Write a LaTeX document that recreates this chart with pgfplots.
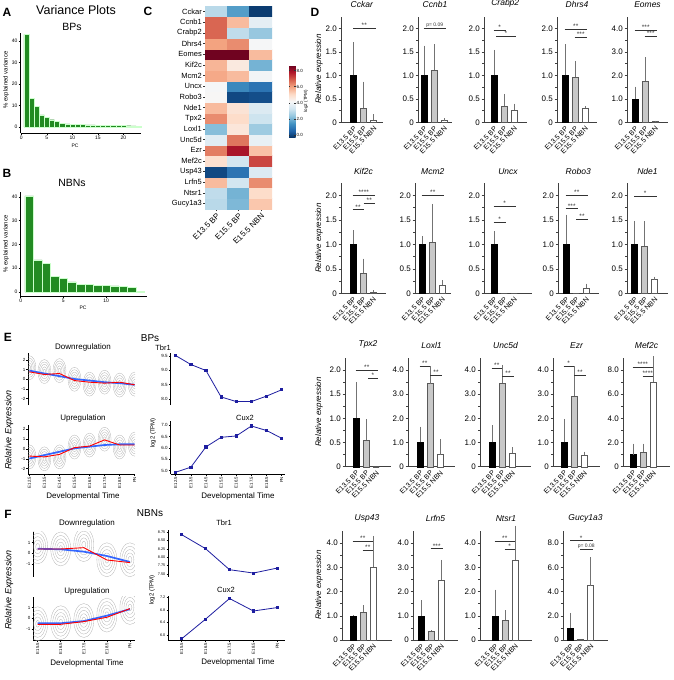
\documentclass[border=0pt]{standalone}
\usepackage{fontspec}
\setmainfont{Liberation Sans}
\usepackage{pgfplots}
\usepackage{pgfplotstable}
\pgfplotsset{compat=1.18}
\newcommand{\fs}[1]{\fontsize{#1}{#1}\selectfont}
\definecolor{pcgreen}{RGB}{34,139,34}
\definecolor{lblue}{RGB}{51,102,255}
\definecolor{tbblue}{RGB}{30,30,160}
\definecolor{bgrey}{RGB}{200,200,200}
\definecolor{edge}{RGB}{90,90,90}

\pgfplotsset{
 /pgf/number format/assume math mode=true,
 pcax/.style={scale only axis, anchor=south west, axis x line*=bottom, axis y line*=left, tick align=outside,
   axis line style={line width=0.5pt}, tick style={line width=0.5pt,black}, major tick length=2pt,
   ticklabel style={font=\fs{5}, inner sep=1pt}, xtick={0,5,10,15,20}, ytick={0,10,20,30,40}, clip=false},
 pcbar/.style={ybar, bar width=1, bar shift=0pt, fill=pcgreen, draw=green!20!white, line width=0.3pt},
 dbase/.style={scale only axis, anchor=south west, ymin=0, axis x line*=bottom, axis y line*=left,
   axis line style={black!75, line width=0.5pt}, tick align=outside, tick style={black!75, line width=0.5pt},
   major tick length=2.5pt, minor tick length=1.6pt, xtick={1,2,3}, xticklabels={E13.5 BP,E15.5 BP,E15.5 NBN},
   major x tick style={draw=none}, xticklabel style={rotate=45, anchor=north east, inner sep=0.5pt, font=\fs{7}},
   yticklabel style={font=\fs{8}, inner sep=1.5pt},
   title style={font=\fs{8.5}\itshape, at={(0.5,1)}, anchor=south, yshift=3pt, inner sep=0pt}, clip=false},
 s2/.style={ymax=2.25, ytick={0,0.5,1,1.5,2}, yticklabels={0,0.5,1.0,1.5,2.0}, minor y tick num=1},
 s4/.style={ymax=4.5, ytick={0,1,2,3,4}, yticklabels={0,1.0,2.0,3.0,4.0}, minor y tick num=1},
 s8/.style={ymax=9, ytick={0,2,4,6,8}, yticklabels={0,2.0,4.0,6.0,8.0}, minor y tick num=1},
 ebar/.style={error bars/.cd, y dir=plus, y explicit, error mark=none, error bar style={black!55, line width=0.6pt}},
 bk/.style={ybar, bar width=6pt, bar shift=0pt, fill=black, draw=black, line width=0.4pt, ebar},
 gy/.style={ybar, bar width=6pt, bar shift=0pt, fill=bgrey, draw=edge, line width=0.4pt, ebar},
 wt/.style={ybar, bar width=6pt, bar shift=0pt, fill=white, draw=edge, line width=0.4pt, ebar},
 lineax/.style={scale only axis, anchor=south west, axis y line*=left, tick align=outside,
   axis line style={line width=0.5pt}, tick style={line width=0.5pt, black}, major tick length=1.8pt,
   yticklabel style={font=\fs{4.5}, inner sep=1pt},
   xticklabel style={font=\fs{4.3}, rotate=90, anchor=east, inner sep=1pt}},
 downax/.style={lineax, axis x line=none},
 upax/.style={lineax, axis x line*=bottom},
 redl/.style={red, line width=0.9pt},
 bluel/.style={lblue, line width=1.7pt},
 tbl/.style={tbblue, line width=0.8pt, mark=square*, mark size=1.1pt},
}

\newcommand{\bars}[6]{\addplot[bk] coordinates {(1,#1) +- (0,#2)};
 \addplot[gy] coordinates {(2,#3) +- (0,#4)};
 \addplot[wt] coordinates {(3,#5) +- (0,#6)};}
\newcommand{\sig}[4]{\draw[black!80, line width=0.5pt] (axis cs:#1,#3) -- (axis cs:#2,#3) node[midway, above, inner sep=0.4pt, font=\fs{6.5}] {#4};}
\newcommand{\dpanel}[9]{\begin{axis}[dbase,#7,at={(#1pt,-#2pt)},xmin=#3,xmax=#4,width=#5pt,height=#6pt,title={#8}]
 #9
 \end{axis}}
\newcommand{\blob}[4]{\foreach \k in {1,...,5}{\edef\tmp{\noexpand\draw[gray!60, line width=0.3pt] (axis cs:#1,#2) ellipse [x radius=\k*#3pt, y radius=\k*#4pt];}\tmp}}

\pgfplotstableread{
x y c
0 0 2.9
1 0 2.1
2 0 5.4
0 1 3.0
1 1 2.0
2 1 5.0
0 2 5.6
1 2 3.3
2 2 6.3
0 3 0.0
1 3 0.8
2 3 3.5
0 4 4.9
1 4 3.3
2 4 7.2
0 5 6.5
1 5 7.9
2 5 5.5
0 6 3.6
1 6 6.6
2 6 3.8
0 7 2.2
1 7 4.7
2 7 2.5
0 8 6.3
1 8 5.0
2 8 3.2
0 9 5.6
1 9 4.8
2 9 3.5
0 10 4.2
1 10 0.0
2 10 0.1
0 11 4.1
1 11 1.2
2 11 0.8
0 12 5.9
1 12 5.6
2 12 4.0
0 13 5.7
1 13 4.6
2 13 2.0
0 14 8.6
1 14 8.6
2 14 5.6
0 15 6.0
1 15 6.3
2 15 4.1
0 16 6.8
1 16 3.0
2 16 2.4
0 17 6.8
1 17 5.6
2 17 3.7
0 18 2.9
1 18 1.6
2 18 -0.2
}\heat

\begin{document}
\begin{tikzpicture}
\path[use as bounding box] (0pt,0pt) rectangle (674pt,-680pt);

% ---------------- Panel A / B ----------------
\node[font=\fs{12}\bfseries] at (7pt,-12pt) {A};
\node[font=\fs{12.5}] at (76pt,-10pt) {Variance Plots};
\node[font=\fs{10.5}] at (72pt,-27pt) {BPs};
\begin{axis}[pcax, at={(20.7pt,-133pt)}, width=120.5pt, height=100pt, xmin=-0.12, xmax=23.5, ymin=-2.78, ymax=43.6]
\addplot[pcbar] coordinates {(1,43) (2,13.3) (3,9.7) (4,5.6) (5,4.5) (6,3.4) (7,2.5) (8,1.7) (9,1.4) (10,1.3) (11,1.2) (12,1.1) (13,1.0) (14,0.95) (15,0.9) (16,0.85) (17,0.8) (18,0.75) (19,0.7) (20,0.65) (21,0.6) (22,0.5) (23,0.2)};
\end{axis}
\node[font=\fs{6}, rotate=90] at (6pt,-80pt) {\% explained variance};
\node[font=\fs{5}] at (75pt,-146pt) {PC};

\node[font=\fs{12}\bfseries] at (7pt,-173pt) {B};
\node[font=\fs{10.5}] at (72pt,-183pt) {NBNs};
\begin{axis}[pcax, at={(20.7pt,-296pt)}, width=126.3pt, height=104pt, xmin=0, xmax=14.8, ymin=-1.7, ymax=42.1, xtick={0,5,10,15}]
\addplot[pcbar] coordinates {(1,40.5) (2,13.5) (3,12) (4,6.5) (5,5.7) (6,4.2) (7,3.3) (8,3.2) (9,2.8) (10,2.7) (11,2.6) (12,2.4) (13,2.0) (14,0.2)};
\end{axis}
\node[font=\fs{6}, rotate=90] at (6pt,-244pt) {\% explained variance};
\node[font=\fs{5}] at (83pt,-308pt) {PC};

% ---------------- Panel C ----------------
\node[font=\fs{12}\bfseries] at (148pt,-11pt) {C};
\begin{axis}[scale only axis, at={(205pt,-209pt)}, anchor=south west, width=67pt, height=203pt,
  xmin=-0.5, xmax=2.5, ymin=-0.5, ymax=18.5, enlargelimits=false, axis line style={draw=none},
  tick align=outside, major tick length=2pt, tick style={black!80, line width=0.4pt},
  xtick={0,1,2}, xticklabels={E13.5 BP,E15.5 BP,E15.5 NBN},
  ytick={0,...,18}, yticklabels={Gucy1a3,Ntsr1,Lrfn5,Usp43,Mef2c,Ezr,Unc5d,Loxl1,Tpx2,Nde1,Robo3,Uncx,Mcm2,Kif2c,Eomes,Dhrs4,Crabp2,Ccnb1,Cckar},
  xtick pos=left, ytick pos=left,
  xticklabel style={rotate=45, anchor=north east, font=\fs{8}, inner sep=1pt},
  yticklabel style={font=\fs{7.5}, inner sep=1pt},
  colormap={rdbu}{rgb255=(5,48,97) rgb255=(33,102,172) rgb255=(67,147,195) rgb255=(146,197,222) rgb255=(209,229,240) rgb255=(247,247,247) rgb255=(253,219,199) rgb255=(244,165,130) rgb255=(214,96,77) rgb255=(178,24,43) rgb255=(103,0,31)},
  point meta min=-0.4, point meta max=8.7,
  colorbar,
  colorbar style={at={(parent axis.north east)}, anchor=north west, xshift=8.5pt, yshift=-59pt,
     scale only axis, width=6.5pt, height=73pt, ytick={0,2,4,6,8}, yticklabels={0.0,2.0,4.0,6.0,8.0},
     yticklabel style={font=\fs{4.5}, inner sep=0.8pt}, major tick length=1.2pt, axis line style={draw=none}}]
\addplot[matrix plot*, mesh/cols=3, point meta=explicit] table[meta=c] {\heat};
\end{axis}
\node[font=\fs{4.5}, rotate=90] at (306pt,-101pt) {log2 (TPM)};

% ---------------- Panel D ----------------
\node[font=\fs{12}\bfseries] at (315pt,-12pt) {D};
\foreach \yy in {69,238,412,585}{\node[font=\fs{8}\itshape, rotate=90] at (319pt,-\yy pt) {Relative expression};}

\dpanel{341}{122.5}{-0.25}{3.9}{41.5}{106}{s2}{Cckar}{\bars{1.0}{0.70}{0.30}{0.57}{0.05}{0.12}\sig{0.95}{3.2}{2.0}{**}}
\dpanel{418}{122.5}{0.4}{3.8}{34}{106}{s2}{Ccnb1}{\bars{1.0}{0.63}{1.12}{0.54}{0.04}{0.05}\sig{0.95}{3.2}{2.0}{\fs{5}p= 0.09}}
\dpanel{484}{122.5}{0.0}{4.25}{42.5}{106}{s2}{Crabp2}{\bars{1.0}{0.54}{0.34}{0.27}{0.27}{0.13}\sig{0.95}{2.2}{1.96}{*}\sig{1.2}{3.2}{1.84}{*}}
\dpanel{557}{122.5}{0.2}{4.2}{40}{106}{s2}{Dhrs4}{\bars{1.0}{0.66}{0.96}{0.35}{0.30}{0.05}\sig{0.95}{3.2}{1.98}{**}\sig{1.95}{3.2}{1.82}{***}}
\dpanel{627}{122.5}{0.2}{4.3}{41}{106}{s4}{Eomes}{\bars{1.0}{0.52}{1.75}{1.02}{0.05}{0.03}\sig{0.95}{3.2}{3.92}{***}\sig{1.95}{3.2}{3.67}{***}}

\dpanel{341}{293.3}{-0.2}{4.3}{45}{110}{s2}{Kif2c}{\bars{1.0}{0.29}{0.41}{0.30}{0.03}{0.03}\sig{0.95}{3.2}{2.01}{****}\sig{0.95}{2.05}{1.71}{**}\sig{2.05}{3.2}{1.84}{**}}
\dpanel{415}{293.3}{0.3}{3.85}{35.5}{110}{s2}{Mcm2}{\bars{1.0}{0.17}{1.05}{0.78}{0.16}{0.11}\sig{0.95}{3.2}{2.01}{**}}
\dpanel{484}{293.3}{0.0}{4.8}{48}{110}{s2}{Uncx}{\bars{1.0}{0.27}{0}{0}{0}{0}\sig{0.95}{3.2}{1.78}{*}\sig{0.95}{2.2}{1.46}{*}}
\dpanel{558}{293.3}{0.2}{4.25}{40.5}{110}{s2}{Robo3}{\bars{1.0}{0.61}{0}{0}{0.1}{0.1}\sig{0.95}{3.2}{2.01}{**}\sig{0.95}{2.2}{1.73}{***}\sig{2.0}{3.2}{1.51}{**}}
\dpanel{627}{293.3}{0.25}{4.35}{41}{110}{s2}{Nde1}{\bars{1.0}{0.48}{0.97}{0.50}{0.28}{0.06}\sig{0.95}{3.2}{1.99}{*}}

\dpanel{345}{466.7}{-0.1}{4.5}{46}{109}{s2}{Tpx2}{\bars{1.0}{0.75}{0.55}{0.43}{0}{0}\sig{0.95}{3.2}{2.0}{**}\sig{2.2}{3.2}{1.83}{*}}
\dpanel{408}{466.7}{-0.2}{4.5}{47}{109}{s4}{Loxl1}{\bars{1.0}{0.65}{3.43}{0.71}{0.5}{0.63}\sig{0.95}{2.0}{4.14}{**}\sig{2.0}{3.2}{3.77}{**}}
\dpanel{480}{466.7}{-0.2}{4.9}{51}{109}{s4}{Unc5d}{\bars{1.0}{0.72}{3.45}{0.75}{0.55}{0.25}\sig{0.95}{2.0}{4.07}{**}\sig{2.0}{3.2}{3.72}{**}}
\dpanel{553}{466.7}{-0.1}{4.6}{47}{109}{s4}{Ezr}{\bars{1.0}{0.97}{2.93}{1.21}{0.47}{0.15}\sig{0.95}{2.0}{4.14}{*}\sig{2.0}{3.2}{3.77}{**}}
\dpanel{623}{466.7}{0.0}{4.7}{47}{109}{s8}{Mef2c}{\bars{1.0}{0.9}{1.2}{0.7}{7.0}{2.1}\sig{0.95}{3.0}{8.2}{****}\sig{1.95}{3.0}{7.45}{****}}

\dpanel{342}{640}{-0.1}{4.9}{50}{109}{s4}{Usp43}{\bars{1.0}{0.02}{1.15}{0.29}{3.0}{1.3}\sig{0.95}{3.0}{4.08}{**}\sig{1.95}{3.0}{3.7}{**}}
\dpanel{413}{640}{0.2}{4.7}{45}{109}{s4}{Lrfn5}{\bars{1.0}{0.64}{0.37}{0.04}{2.47}{0.84}\sig{1.95}{3.2}{3.77}{***}}
\dpanel{480}{640}{-0.5}{4.7}{52}{109}{s4}{Ntsr1}{\bars{1.0}{1.08}{0.83}{0.40}{3.3}{1.42}\sig{0.95}{3.0}{4.08}{**}\sig{1.95}{3.0}{3.75}{*}}
\dpanel{563}{640}{0.25}{4.75}{45}{109}{s8}{Gucy1a3}{\bars{1.0}{1.25}{0.03}{0}{4.5}{2.35}\sig{0.95}{3.2}{8.2}{*}\sig{1.95}{3.2}{7.5}{\fs{5}p= 0.08}}

% ---------------- Panel E ----------------
\node[font=\fs{12}\bfseries] at (8pt,-337pt) {E};
\node[font=\fs{10}] at (150pt,-338pt) {BPs};
\node[font=\fs{8}] at (83pt,-347pt) {Downregulation};
\node[font=\fs{8}] at (83pt,-418pt) {Upregulation};
\node[font=\fs{9}\itshape, rotate=90] at (9pt,-430pt) {Relative Expression};
\node[font=\fs{8}] at (83pt,-496pt) {Developmental Time};
\begin{axis}[downax, at={(28.3pt,-405pt)}, width=106.7pt, height=51.7pt, xmin=0.93, xmax=8.02, ymin=-2.66, ymax=2.69, ytick={-2,-1,0,1,2}]
\blob{1}{1.2}{1.3}{2.4}\blob{2}{0.8}{1.3}{2.4}\blob{3}{0.9}{1.3}{2.4}\blob{4}{0}{1.3}{2.4}
\blob{5}{-0.5}{1.3}{2.4}\blob{6}{-0.3}{1.3}{2.4}\blob{7}{-0.6}{1.3}{2.4}\blob{8}{-0.5}{1.3}{2.4}
\addplot[bluel] coordinates {(1,0.9) (2,0.6) (3,0.33) (4,0.03) (5,-0.13) (6,-0.3) (7,-0.4) (8,-0.57)};
\addplot[redl] coordinates {(1,0.77) (2,0.5) (3,0.6) (4,-0.13) (5,-0.3) (6,-0.4) (7,-0.3) (8,-0.57)};
\end{axis}
\begin{axis}[upax, at={(28.3pt,-474pt)}, width=106.7pt, height=49pt, xmin=0.93, xmax=8.02, ymin=-2.55, ymax=2.45, ytick={-2,-1,0,1,2},
  xtick={1,...,8}, xticklabels={E12.5,E13.5,E14.5,E15.5,E16.5,E17.5,E18.5,PN}]
\blob{1}{-0.8}{1.3}{2.4}\blob{2}{-1}{1.3}{2.4}\blob{3}{-0.8}{1.3}{2.4}\blob{4}{0.2}{1.3}{2.4}
\blob{5}{0.4}{1.3}{2.4}\blob{6}{1}{1.3}{2.4}\blob{7}{0.2}{1.3}{2.4}\blob{8}{0.5}{1.3}{2.4}
\addplot[bluel] coordinates {(1,-0.97) (2,-0.62) (3,-0.28) (4,0.07) (5,0.24) (6,0.41) (7,0.48) (8,0.48)};
\addplot[redl] coordinates {(1,-0.72) (2,-0.8) (3,-0.55) (4,0.14) (5,0.3) (6,0.93) (7,0.41) (8,0.41)};
\end{axis}

\node[font=\fs{7.5}] at (163pt,-348pt) {Tbr1};
\node[font=\fs{7.5}] at (245pt,-418pt) {Cux2};
\node[font=\fs{6}, rotate=90] at (153pt,-433pt) {log2 (TPM)};
\node[font=\fs{8}] at (238pt,-496pt) {Developmental Time};
\begin{axis}[downax, at={(170.7pt,-405pt)}, width=114.3pt, height=52pt, xmin=0.67, xmax=8.22, ymin=7.79, ymax=9.6,
  ytick={8,8.5,9,9.5}, yticklabel style={/pgf/number format/.cd, fixed, fixed zerofill, precision=1}]
\addplot[tbl] coordinates {(1,9.51) (2,9.2) (3,8.99) (4,8.07) (5,7.91) (6,7.91) (7,8.1) (8,8.32)};
\end{axis}
\begin{axis}[upax, at={(170.7pt,-474pt)}, width=114.3pt, height=53pt, xmin=0.67, xmax=8.22, ymin=4.85, ymax=7.19,
  ytick={5,5.5,6,6.5,7}, yticklabel style={/pgf/number format/.cd, fixed, fixed zerofill, precision=1},
  xtick={1,...,8}, xticklabels={E12.5,E13.5,E14.5,E15.5,E16.5,E17.5,E18.5,PN}]
\addplot[tbl] coordinates {(1,4.93) (2,5.15) (3,6.05) (4,6.47) (5,6.53) (6,6.97) (7,6.77) (8,6.43)};
\end{axis}

% ---------------- Panel F ----------------
\node[font=\fs{12}\bfseries] at (8pt,-514pt) {F};
\node[font=\fs{10}] at (150pt,-513pt) {NBNs};
\node[font=\fs{8}] at (87pt,-523pt) {Downregulation};
\node[font=\fs{8}] at (87pt,-591pt) {Upregulation};
\node[font=\fs{9}\itshape, rotate=90] at (9pt,-590pt) {Relative Expression};
\node[font=\fs{8}] at (87pt,-663pt) {Developmental Time};
\begin{axis}[downax, at={(33.3pt,-576.7pt)}, width=101.7pt, height=45pt, xmin=0.81, xmax=5.22, ymin=-2.17, ymax=2.0, ytick={-1,0,1}]
\blob{1}{0.6}{2}{3.4}\blob{2}{0.4}{2}{3.4}\blob{3}{0.8}{2}{3.4}\blob{4}{-0.6}{2}{3.4}\blob{5}{-0.6}{2}{3.4}
\addplot[bluel] coordinates {(1,0.42) (2,0.37) (3,0.15) (4,-0.25) (5,-0.8)};
\addplot[redl] coordinates {(1,0.4) (2,0.4) (3,0.52) (4,-0.62) (5,-0.86)};
\end{axis}
\begin{axis}[upax, at={(33.3pt,-640pt)}, width=101.7pt, height=43.3pt, xmin=0.81, xmax=5.22, ymin=-2.0, ymax=2.0, ytick={-1,0,1},
  xtick={1,...,5}, xticklabels={E15.5,E16.5,E17.5,E18.5,PN}]
\blob{1}{-0.5}{2}{3.4}\blob{2}{-0.4}{2}{3.4}\blob{3}{-0.2}{2}{3.4}\blob{4}{0.3}{2}{3.4}\blob{5}{1.0}{2}{3.4}
\addplot[bluel] coordinates {(1,-0.45) (2,-0.45) (3,-0.25) (4,0.25) (5,0.85)};
\addplot[redl] coordinates {(1,-0.55) (2,-0.55) (3,-0.3) (4,0.1) (5,0.9)};
\end{axis}

\node[font=\fs{7.5}] at (224pt,-523pt) {Tbr1};
\node[font=\fs{7.5}] at (226pt,-590pt) {Cux2};
\node[font=\fs{6}, rotate=90] at (152pt,-590pt) {log2 (TPM)};
\node[font=\fs{8}] at (238pt,-662pt) {Developmental Time};
\begin{axis}[downax, at={(168.3pt,-576.7pt)}, width=116.7pt, height=46.7pt, xmin=0.44, xmax=5.32, ymin=7.42, ymax=8.82,
  ytick={7.5,7.75,8,8.25,8.5,8.75}, yticklabel style={font=\fs{3.8}, /pgf/number format/.cd, fixed, fixed zerofill, precision=2}]
\addplot[tbl] coordinates {(1,8.68) (2,8.26) (3,7.63) (4,7.53) (5,7.68)};
\end{axis}
\begin{axis}[upax, at={(168.3pt,-640pt)}, width=116.7pt, height=44pt, xmin=0.44, xmax=5.32, ymin=5.84, ymax=7.25,
  ytick={6,6.4,6.8,7.2}, yticklabel style={font=\fs{3.8}, /pgf/number format/.cd, fixed, fixed zerofill, precision=1},
  xtick={1,...,5}, xticklabels={E15.5,E16.5,E17.5,E18.5,PN}]
\addplot[tbl] coordinates {(1,5.88) (2,6.51) (3,7.17) (4,6.77) (5,6.88)};
\end{axis}
\end{tikzpicture}
\end{document}
